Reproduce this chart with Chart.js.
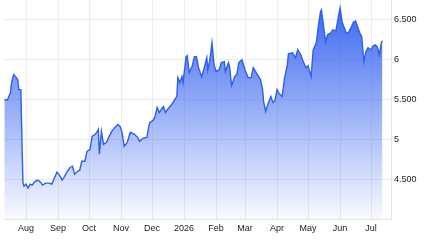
<!DOCTYPE html>
<html>
<head>
<meta charset="utf-8">
<script src="https://cdn.jsdelivr.net/npm/chart.js@4"></script>
<style>
  html, body { margin: 0; padding: 0; background: #fff; }
  #wrap { width: 425px; height: 240px; }
</style>
</head>
<body>
<div id="wrap"><canvas id="chart" width="425" height="240"></canvas></div>
<script>
// days counted from 1 Aug 2025
const days = [
  -21, -18, -15, -14, -12, -10, -8, -7, -5, -3, -2, 0, 2, 4, 6, 8, 11, 14, 16, 19,
  22, 25, 27, 30, 33, 35, 37, 40, 43, 45, 47, 50, 52, 54, 57, 59, 62, 64, 67, 69,
  70, 71, 73, 75, 78, 80, 83, 86, 89, 91, 93, 95, 98, 101, 105, 108, 110, 113, 117, 119,
  120, 123, 125, 127, 129, 131, 133, 135, 137, 141, 144, 146, 147, 149, 151, 152, 155, 156, 158, 161,
  163, 165, 167, 170, 172, 175, 176, 178, 180, 182, 184, 187, 189, 192, 193, 196, 197, 199, 202, 204,
  206, 209, 212, 215, 218, 220, 224, 227, 229, 230, 232, 234, 237, 239, 241, 243, 245, 248, 250, 253,
  254, 258, 259, 261, 263, 266, 268, 271, 273, 276, 278, 281, 283, 285, 286, 288, 290, 292, 295, 297,
  300, 302, 304, 306, 308, 310, 312, 315, 317, 319, 320, 323, 325, 327, 329, 331, 334, 336, 338, 340,
  342, 344, 345
];
const prices = [
  5.500, 5.494, 5.588, 5.713, 5.813, 5.788, 5.750, 5.625, 5.625, 4.463, 4.413, 4.438, 4.388, 4.438, 4.425, 4.463, 4.488, 4.463, 4.425, 4.450,
  4.450, 4.438, 4.500, 4.588, 4.538, 4.488, 4.525, 4.600, 4.650, 4.663, 4.563, 4.600, 4.613, 4.725, 4.725, 4.850, 4.875, 5.038, 5.063, 5.100,
  5.125, 4.813, 5.100, 4.938, 4.963, 5.025, 5.100, 5.150, 5.188, 5.163, 5.088, 4.913, 4.963, 5.088, 5.063, 5.025, 4.975, 5.013, 5.025, 5.175,
  5.213, 5.238, 5.288, 5.400, 5.338, 5.375, 5.413, 5.338, 5.375, 5.438, 5.500, 5.538, 5.775, 5.713, 5.788, 5.713, 6.038, 6.050, 5.838, 5.925,
  6.038, 6.038, 5.900, 5.788, 5.875, 6.025, 5.875, 6.000, 6.213, 5.938, 5.850, 5.875, 5.963, 5.975, 5.850, 5.963, 5.913, 5.675, 5.788, 5.813,
  5.963, 6.000, 5.875, 5.775, 5.775, 5.900, 5.813, 5.750, 5.625, 5.475, 5.350, 5.438, 5.538, 5.463, 5.488, 5.625, 5.575, 5.538, 5.750, 5.938,
  6.075, 6.088, 6.063, 6.025, 6.125, 6.063, 5.988, 5.900, 5.925, 5.788, 6.125, 6.213, 6.425, 6.600, 6.625, 6.425, 6.225, 6.313, 6.338, 6.375,
  6.363, 6.513, 6.650, 6.475, 6.400, 6.338, 6.338, 6.413, 6.475, 6.488, 6.450, 6.338, 6.288, 5.975, 6.100, 6.150, 6.125, 6.175, 6.188, 6.163,
  6.063, 6.213, 6.238
];

// month starts (days from 1 Aug 2025) and their labels
const monthDays = [0, 31, 61, 92, 122, 153, 184, 212, 243, 273, 304, 334];
const monthLabels = ['Aug', 'Sep', 'Oct', 'Nov', 'Dec', '2026', 'Feb', 'Mar', 'Apr', 'May', 'Jun', 'Jul'];

const yTicks = [4.5, 5, 5.5, 6, 6.5];
const yLabels = ['4.500', '5', '5.500', '6', '6.500'];

const points = days.map((d, i) => ({ x: d, y: prices[i] }));

function fillGradient(context) {
  const area = context.chart.chartArea;
  if (!area) return 'rgba(55,100,240,0.4)';
  const g = context.chart.ctx.createLinearGradient(0, area.top, 0, area.bottom);
  g.addColorStop(0, 'rgba(55,100,240,1)');
  g.addColorStop(1, 'rgba(55,100,240,0.03)');
  return g;
}

const textFont = { family: '"Liberation Sans", Arial, sans-serif', size: 9 };

new Chart(document.getElementById('chart'), {
  type: 'line',
  data: {
    datasets: [{
      data: points,
      borderColor: '#2f5fe8',
      borderWidth: 1.4,
      backgroundColor: fillGradient,
      fill: 'start',
      pointRadius: 0,
      tension: 0,
    }],
  },
  options: {
    responsive: false,
    animation: false,
    devicePixelRatio: 1,
    layout: { padding: { left: 4, top: 0, right: 0, bottom: 0 } },
    plugins: { legend: { display: false }, tooltip: { enabled: false } },
    scales: {
      x: {
        type: 'linear',
        min: -21.3,
        max: 353.3,
        afterBuildTicks: s => { s.ticks = monthDays.map(v => ({ value: v })); },
        afterFit: s => { s.height = 21; s.paddingLeft = 0; s.paddingRight = 0; },
        ticks: {
          autoSkip: false,
          maxRotation: 0,
          padding: 4,
          color: '#222',
          font: textFont,
          callback: (v) => monthLabels[monthDays.indexOf(v)],
        },
        grid: { color: '#ececec', drawTicks: false },
        border: { display: true, color: '#e4e4e4' },
      },
      y: {
        position: 'right',
        min: 4.0,
        max: 6.75,
        afterBuildTicks: s => { s.ticks = yTicks.map(v => ({ value: v })); },
        afterFit: s => { s.width = 34; s.paddingTop = 0; s.paddingBottom = 0; },
        ticks: {
          padding: 3,
          color: '#222',
          font: textFont,
          callback: (v) => yLabels[yTicks.indexOf(v)],
        },
        grid: { color: '#ececec', drawTicks: false },
        border: { display: true, color: '#e4e4e4' },
      },
    },
  },
});
</script>
</body>
</html>
